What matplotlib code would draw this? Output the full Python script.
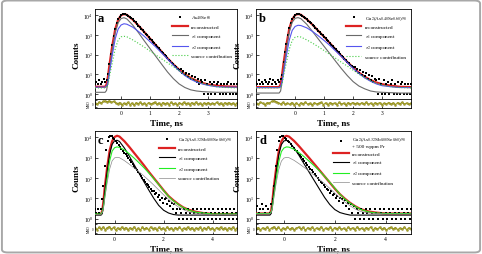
import matplotlib
matplotlib.use('Agg')
import matplotlib.pyplot as plt
import numpy
from matplotlib.patches import FancyBboxPatch

plt.rcParams['font.family'] = ['Liberation Serif', 'DejaVu Serif']
plt.rcParams['mathtext.fontset'] = 'stix'

# ---- panel a : As40Se60 ----
a_lim = (-0.9, 4.0)
a_knot_t = [-0.9, -0.55, -0.5, -0.45, -0.4, -0.3, -0.2, -0.1, 0.0, 0.1, 0.2, 0.4, 0.6, 0.8,
            1.0, 1.2, 1.4, 1.6, 1.8, 2.0, 2.2, 2.4, 2.6, 2.8, 3.0, 3.3, 3.6, 4.0]
a_rec = [2.3, 2.3, 3, 8, 30, 300, 2000, 6000, 10000, 11500, 10500, 6000, 3000, 1400,
         650, 300, 140, 65, 32, 17, 10, 6.5, 4.7, 3.6, 3.0, 2.6, 2.4, 2.3]
a_tau1 = [1.2, 1.2, 1.5, 4, 15, 180, 1300, 4200, 6800, 7500, 6500, 3200, 1300, 500,
          200, 80, 32, 13, 6, 3.2, 2.1, 1.6, 1.4, 1.3, 1.25, 1.2, 1.2, 1.2]
a_tau2 = [2.2, 2.2, 2.5, 4, 12, 100, 650, 2000, 3200, 3700, 3500, 2500, 1500, 850,
          450, 240, 120, 60, 29, 15, 8.5, 5.5, 4.0, 3.2, 2.7, 2.3, 2.2, 2.2]
a_src = [2.0, 2.0, 2.2, 3, 8, 40, 200, 550, 800, 850, 800, 560, 370, 240,
         150, 95, 60, 38, 24, 15, 9.5, 6.3, 4.5, 3.4, 2.8, 2.3, 2.1, 2.0]
a_counts = [3, 4, 3, 5, 3, 4, 6, 4, 5, 10,
            35, 110, 320, 900, 2100, 3900, 6200, 8300, 10200, 11200,
            11700, 11400, 10600, 9500, 8400, 7200, 6100, 5200, 4300, 3600,
            3000, 2500, 2050, 1700, 1400, 1150, 950, 790, 650, 540,
            440, 370, 300, 250, 205, 170, 140, 118, 96, 80,
            66, 55, 46, 38, 32, 27, 23, 19, 17, 18,
            11, 14, 9, 12, 7, 10, 6, 8, 5, 7,
            4, 6, 3, 5, 4, 1, 5, 3, 1, 4,
            1, 3, 4, 1, 3, 4, 1, 3, 1, 3,
            1, 3, 4, 1, 3, 1, 3, 1, 3]
a_msd = [0.5, -0.8, 1.2, 0.3, 1.8, 2.2, 1.5, 2.4, 1.0, 1.9, 0.6, -0.4, 0.9, -1.1, 0.2,
         -0.6, 1.1, -0.9, 0.4, -1.3, 0.7, -0.2, 1.0, -0.7, 0.3, -1.0, 0.8, -0.5, 0.1, 1.2,
         -0.8, 0.5, -1.2, 0.9, -0.3, 0.6, -0.9, 1.1, -0.4, 0.2, -1.1, 0.7, -0.6, 1.0, -0.2,
         0.4, -0.9, 0.8, -0.5, 1.2, -0.7, 0.3, -1.0, 0.6, -0.3, 0.9, -0.8, 0.2, -0.4, 1.0,
         -0.6, 0.5, -1.1, 0.7, -0.2, 0.9, -0.7, 0.4, -0.9, 0.6]

# ---- panel b : Ga2(As0.40Se0.60)98 ----
b_lim = (-1.35, 4.0)
b_knot_t = [-1.35, -0.55, -0.5, -0.45, -0.4, -0.3, -0.2, -0.1, 0.0, 0.1, 0.2, 0.4, 0.6, 0.8,
            1.0, 1.2, 1.4, 1.6, 1.8, 2.0, 2.2, 2.4, 2.6, 2.8, 3.0, 3.3, 3.6, 4.0]
b_rec = [2.2, 2.2, 3, 9, 35, 320, 2100, 6200, 10200, 11600, 10600, 6300, 3300, 1600,
         800, 380, 180, 85, 42, 22, 12, 7.5, 5.0, 3.8, 3.1, 2.6, 2.3, 2.2]
b_tau1 = [1.1, 1.1, 1.4, 4, 16, 190, 1400, 4400, 7000, 7600, 6700, 3500, 1500, 620,
          260, 110, 45, 19, 8.5, 4.2, 2.5, 1.8, 1.4, 1.25, 1.2, 1.15, 1.1, 1.1]
b_tau2 = [2.1, 2.1, 2.4, 4, 11, 90, 560, 1700, 2700, 3100, 3000, 2300, 1500, 900,
          520, 290, 150, 78, 39, 20, 11, 6.5, 4.4, 3.2, 2.6, 2.3, 2.1, 2.1]
b_src = [2.0, 2.0, 2.2, 3, 8, 40, 190, 520, 760, 820, 780, 560, 380, 250,
         160, 100, 64, 40, 26, 16, 10, 6.6, 4.6, 3.5, 2.8, 2.3, 2.1, 2.0]
b_counts = [4, 3, 5, 3, 4, 3, 5, 4, 3, 4, 6, 3, 5, 4, 3, 5, 4, 6,
            9, 40, 130, 360, 1000, 2300, 4100, 6500, 8600, 10400, 11300,
            11800, 11500, 10700, 9600, 8500, 7400, 6300, 5400, 4600, 3900,
            3300, 2800, 2350, 1950, 1600, 1350, 1130, 950, 800, 670,
            560, 470, 390, 320, 270, 225, 185, 155, 128, 105,
            88, 74, 62, 52, 44, 37, 31, 26, 22, 24,
            15, 19, 12, 16, 9, 13, 8, 11, 6, 9,
            5, 8, 4, 6, 5, 1, 6, 3, 1, 5,
            1, 3, 4, 1, 3, 5, 1, 3, 1, 4,
            1, 3, 4, 1, 3, 1, 3, 1, 3]
b_msd = [0.4, -0.6, 1.0, 0.2, -0.9, 0.7, 0.3, 1.9, 2.3, 1.6, 0.8, -0.5, 1.0, -0.8, 0.3,
         -0.7, 0.9, -1.0, 0.5, -1.2, 0.6, -0.3, 1.1, -0.6, 0.2, -1.1, 0.7, -0.4, 0.2, 1.0,
         -0.9, 0.6, -1.0, 0.8, -0.2, 0.5, -1.0, 1.0, -0.5, 0.3, -1.2, 0.8, -0.5, 0.9, -0.3,
         0.5, -0.8, 0.7, -0.6, 1.1, -0.8, 0.4, -0.9, 0.7, -0.2, 0.8, -0.9, 0.3, -0.5, 0.9,
         -0.7, 0.6, -1.0, 0.8, -0.3, 1.0, -0.6, 0.5, -0.8, 0.5]

# ---- panel c : Ga2(As0.32Sb0.08Se0.60)98 ----
c_lim = (-0.8, 5.0)
c_knot_t = [-0.8, -0.55, -0.5, -0.45, -0.4, -0.3, -0.2, -0.1, 0.0, 0.1, 0.2, 0.4, 0.6, 0.8,
            1.0, 1.2, 1.4, 1.6, 1.8, 2.0, 2.2, 2.4, 2.6, 2.8, 3.0, 3.3, 3.6, 4.0, 4.5, 5.0]
c_rec = [1.7, 1.7, 2.5, 8, 35, 350, 2300, 6500, 10500, 12000, 11000, 6500, 3400, 1700,
         850, 420, 200, 100, 50, 25, 13, 8, 5.2, 3.6, 2.8, 2.2, 1.9, 1.7, 1.7, 1.7]
c_tau1 = [1.5, 1.5, 1.8, 5, 20, 220, 1500, 4500, 6800, 7200, 6300, 3000, 1200, 450,
          170, 65, 25, 10, 4.5, 2.6, 1.9, 1.6, 1.5, 1.5, 1.5, 1.5, 1.5, 1.5, 1.5, 1.5]
c_tau2 = [1.7, 1.7, 2.2, 4, 12, 100, 700, 2100, 3100, 3400, 3200, 2400, 1550, 950,
          560, 320, 175, 92, 48, 24, 12.5, 7.5, 5.0, 3.5, 2.7, 2.1, 1.9, 1.7, 1.7, 1.7]
c_src = [1.6, 1.6, 2.0, 3.5, 10, 60, 280, 700, 980, 1050, 1000, 720, 480, 310,
         200, 125, 76, 45, 26, 15, 9, 5.6, 3.8, 2.8, 2.2, 1.8, 1.7, 1.6, 1.6, 1.6]
c_counts = [3, 2, 3, 2, 3, 9,
            40, 380, 2400, 6600, 10700, 12100, 11100, 9500, 8000, 6600,
            5400, 4400, 3500, 2800, 2250, 1800, 1450, 1150, 920, 740,
            590, 470, 380, 300, 240, 195, 155, 125, 100, 82,
            66, 53, 44, 36, 29, 24, 22, 16, 18, 12,
            14, 8, 11, 6, 9, 10, 5, 7, 4, 6,
            3, 5, 2, 3, 1, 3, 2, 1, 3, 2,
            1, 3, 2, 1, 3, 2, 1, 3, 2, 1,
            3, 2, 1, 3, 2, 1, 3, 2, 1, 3,
            2, 1, 3, 2, 1, 3, 2, 1, 3, 2, 1, 3, 2, 1, 3, 2, 1]
c_msd = [0.3, -0.8, 0.9, -0.4, 1.1, -0.9, 0.6, 1.3, -0.5, 0.8, -1.1, 0.4, -0.7, 1.0, -0.3,
         0.7, -1.0, 0.5, -0.6, 1.2, -0.8, 0.2, -1.2, 0.9, -0.4, 0.6, -0.9, 1.0, -0.2, 0.5,
         -1.1, 0.8, -0.5, 0.3, -0.9, 1.1, -0.6, 0.4, -1.0, 0.7, -0.3, 0.9, -0.8, 0.2, -0.5,
         1.0, -0.7, 0.6, -1.1, 0.4, -0.2, 0.8, -0.9, 0.5, -0.4, 1.1, -0.6, 0.3, -1.0, 0.7,
         -0.3, 0.9, -0.7, 0.5, -1.2, 0.6, -0.4, 1.0, -0.8, 0.3]

# ---- panel d : Ga2(As0.32Sb0.08Se0.60)98 + 500 wppm Pr ----
d_lim = (-1.1, 5.0)
d_knot_t = [-1.1, -0.55, -0.5, -0.45, -0.4, -0.3, -0.2, -0.1, 0.0, 0.1, 0.2, 0.4, 0.6, 0.8,
            1.0, 1.2, 1.4, 1.6, 1.8, 2.0, 2.2, 2.4, 2.6, 2.8, 3.0, 3.3, 3.6, 4.0, 4.5, 5.0]
d_rec = [1.8, 1.8, 2.6, 8, 35, 340, 2200, 6400, 10400, 11900, 11000, 6700, 3600, 1850,
         950, 480, 240, 120, 60, 30, 16, 9.5, 6.0, 4.1, 3.0, 2.3, 2.0, 1.8, 1.8, 1.8]
d_tau1 = [1.5, 1.5, 1.8, 5, 20, 210, 1450, 4400, 6700, 7100, 6200, 3000, 1250, 480,
          185, 72, 28, 11, 5, 2.8, 2.0, 1.7, 1.5, 1.5, 1.5, 1.5, 1.5, 1.5, 1.5, 1.5]
d_tau2 = [1.8, 1.8, 2.2, 4, 12, 95, 650, 2000, 3000, 3400, 3300, 2600, 1750, 1100,
          660, 390, 220, 120, 63, 32, 16, 9, 5.8, 4.0, 2.9, 2.2, 1.9, 1.8, 1.8, 1.8]
d_src = [1.7, 1.7, 2.0, 3.5, 10, 60, 270, 680, 960, 1040, 1000, 740, 500, 330,
         215, 135, 85, 52, 31, 18, 10.5, 6.5, 4.3, 3.0, 2.3, 1.9, 1.8, 1.7, 1.7, 1.7]
d_counts = [3, 4, 2, 3, 5, 3, 2, 4, 3, 2, 5, 9,
            40, 370, 2300, 6500, 10600, 12000, 11100, 9600, 8200, 6900,
            5700, 4700, 3800, 3100, 2500, 2050, 1650, 1330, 1080, 870,
            700, 560, 450, 360, 290, 235, 190, 152, 123, 100,
            82, 66, 54, 44, 36, 30, 26, 19, 22, 14,
            17, 10, 13, 7, 11, 9, 6, 8, 4, 6,
            3, 5, 2, 4, 1, 3, 2, 1, 3, 2,
            1, 3, 2, 1, 3, 2, 1, 3, 2, 1,
            3, 2, 1, 3, 2, 1, 3, 2, 1, 3,
            2, 1, 3, 2, 1, 3, 2, 1, 3, 2, 1, 3]
d_msd = [-0.4, 0.7, -1.0, 0.5, -0.3, 1.0, -0.8, 0.4, 1.2, -0.6, 0.9, -1.1, 0.3, -0.5, 1.1,
         -0.7, 0.6, -0.9, 0.2, 1.0, -0.4, 0.8, -1.2, 0.5, -0.2, 0.9, -0.8, 0.4, -0.6, 1.2,
         -0.9, 0.3, -0.5, 1.0, -1.0, 0.6, -0.3, 0.8, -0.7, 0.2, -1.1, 0.9, -0.4, 0.5, -0.8,
         1.1, -0.6, 0.3, -0.9, 0.7, -0.2, 1.0, -1.0, 0.4, -0.5, 0.8, -0.7, 0.6, -1.1, 0.2,
         0.9, -0.4, 0.7, -0.8, 0.3, -0.6, 1.0, -0.9, 0.5, -0.3]

names = [r'As$_{40}$Se$_{60}$',
         r'Ga$_2$(As$_{0.40}$Se$_{0.60}$)$_{98}$',
         r'Ga$_2$(As$_{0.32}$Sb$_{0.08}$Se$_{0.60}$)$_{98}$',
         r'Ga$_2$(As$_{0.32}$Sb$_{0.08}$Se$_{0.60}$)$_{98}$' + '\n' + r'+ 500 wppm Pr']
letters = ['a', 'b', 'c', 'd']

fig = plt.figure(figsize = (4.82, 2.55), dpi = 100)

pos_main = [[0.197, 0.608, 0.295, 0.353], [0.531, 0.608, 0.322, 0.353],
            [0.197, 0.122, 0.295, 0.361], [0.531, 0.122, 0.322, 0.361]]
pos_res = [[0.197, 0.572, 0.295, 0.036], [0.531, 0.572, 0.322, 0.036],
           [0.197, 0.078, 0.295, 0.044], [0.531, 0.078, 0.322, 0.044]]

panels = [(a_lim, a_knot_t, a_rec, a_tau1, a_tau2, a_src, a_counts, a_msd, [0, 1, 2, 3]),
          (b_lim, b_knot_t, b_rec, b_tau1, b_tau2, b_src, b_counts, b_msd, [0, 1, 2, 3]),
          (c_lim, c_knot_t, c_rec, c_tau1, c_tau2, c_src, c_counts, c_msd, [0, 2, 4]),
          (d_lim, d_knot_t, d_rec, d_tau1, d_tau2, d_src, d_counts, d_msd, [0, 2, 4])]

for i, (lim, kt, rec, tau1, tau2, src, counts, msd, xt) in enumerate(panels):
    ax = fig.add_axes(pos_main[i])
    ar = fig.add_axes(pos_res[i], sharex = ax)

    if i < 2:
        c_t1, c_t2, c_src, ls_src, lw_src = '#6a6a6a', '#5555ee', '#44cc44', ':', 0.8
    else:
        c_t1, c_t2, c_src, ls_src, lw_src = 'black', '#22ee22', '#8a8a8a', '-', 0.5

    t_data = numpy.linspace(lim[0], lim[1], len(counts))
    hd, = ax.plot(t_data, counts, 's', ms = 1.7, color = 'black', mew = 0, zorder = 4)
    hr, = ax.plot(kt, rec, color = '#dd2222', lw = 1.6, zorder = 3)
    h1, = ax.plot(kt, tau1, color = c_t1, lw = 0.8, zorder = 5)
    h2, = ax.plot(kt, tau2, color = c_t2, lw = 0.8, zorder = 5)
    hs, = ax.plot(kt, src, color = c_src, lw = lw_src, ls = ls_src, zorder = 5)

    ax.set_yscale('log')
    ax.set_ylim(0.55 if i < 2 else 0.62, 2.1e4)
    ax.set_xlim(lim)
    ax.set_yticks([1, 10, 100, 1000, 10000])
    ax.yaxis.set_minor_locator(matplotlib.ticker.NullLocator())
    ax.tick_params(axis = 'both', direction = 'in', length = 2, width = 0.5, labelsize = 4, pad = 1.5)
    ax.tick_params(axis = 'x', labelbottom = False)
    ax.set_ylabel('Counts', fontsize = 6.5, fontweight = 'bold', labelpad = 2)
    ax.text(0.02, 0.97, letters[i], transform = ax.transAxes, fontsize = 9,
            fontweight = 'bold', va = 'top', ha = 'left')
    for s in ax.spines.values():
        s.set_linewidth(0.6)

    ax.legend([hd, hr, h1, h2, hs],
              [names[i], 'reconstructed', r'$\tau_1$ component', r'$\tau_2$ component',
               'source contribution'],
              loc = 'upper right', fontsize = 3.8, frameon = False, handlelength = 3.0,
              handletextpad = 0.6, labelspacing = 0.55, borderaxespad = 0.5, markerscale = 1.0)

    t_res = numpy.linspace(lim[0], lim[1], len(msd))
    ar.plot(t_res, msd, '-', lw = 0.9, color = '#a8a428')
    ar.plot(t_res, msd, 'o', ms = 1.5, color = '#a8a428', mec = '#6e6a10', mew = 0.2)
    ar.set_ylim(-4, 4)
    ar.set_yticks([-3, 0, 3])
    ar.set_yticklabels(['', '0', ''])
    ar.set_xticks(xt)
    ar.tick_params(axis = 'both', direction = 'in', length = 1.5, width = 0.5, labelsize = 4, pad = 1.5)
    ar.tick_params(axis = 'y', labelsize = 2.2, pad = 0.8)
    ar.set_ylabel('MSD', fontsize = 2.6, labelpad = 0.8)
    for s in ar.spines.values():
        s.set_linewidth(0.6)
    ar.set_xlabel('Time, ns', fontsize = 6.5, fontweight = 'bold', labelpad = 2)

frame = FancyBboxPatch((0.004, 0.006), 0.992, 0.988, boxstyle = 'round,pad=0,rounding_size=0.012',
                       transform = fig.transFigure, fill = False, ec = '#a8a8a8', lw = 1.4)
fig.patches.append(frame)

fig.savefig('out.png', dpi = 100)
